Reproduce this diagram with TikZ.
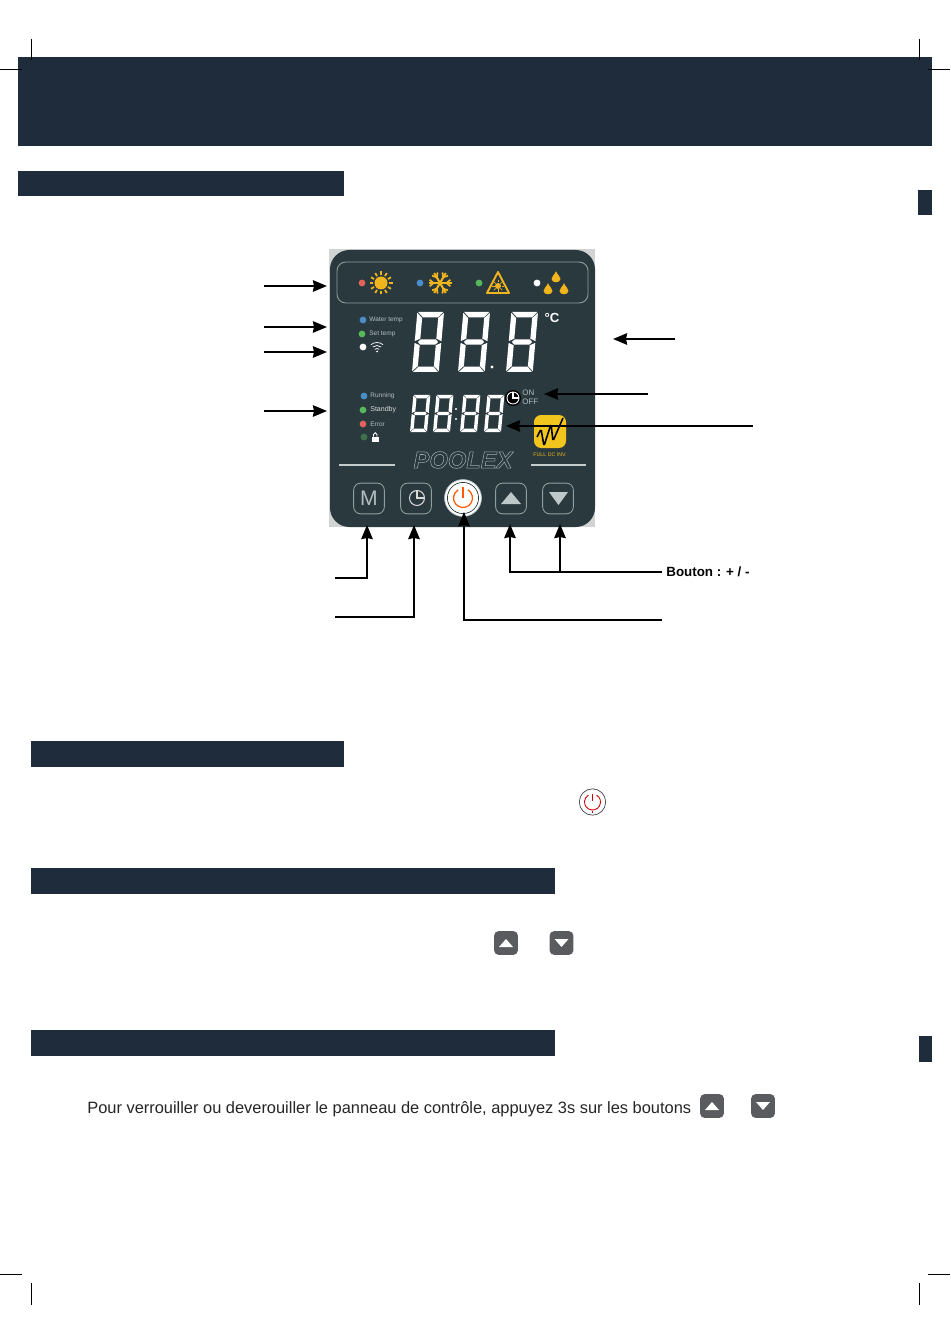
\documentclass[tikz,border=0pt]{standalone}
\usepackage{fontspec}
\setmainfont{Liberation Sans}
\usetikzlibrary{arrows.meta}
\definecolor{bandblue}{HTML}{1E2C3C}
\definecolor{panelgray}{HTML}{2A393E}
\definecolor{panelback}{HTML}{D2D4D4}
\definecolor{panelline}{HTML}{8FA09C}
\definecolor{iconyellow}{HTML}{F0B41E}
\definecolor{logoyellow}{HTML}{F2C51E}
\definecolor{legendgray}{HTML}{B4BEC0}
\definecolor{ledblue}{HTML}{4A8FC8}
\definecolor{ledgreen}{HTML}{57B85A}
\definecolor{ledred}{HTML}{E0635C}
\definecolor{keygray}{HTML}{5A5B5E}
\tikzset{
    band/.style={fill=bandblue},
    cropmark/.style={black,line width=0.5pt},
    callout/.style={black,line width=1.2pt,-{Stealth[length=8pt,width=6.5pt,inset=0.6pt]}},
    led/.style={circle,inner sep=0pt,minimum size=3.9pt},
    legend/.style={font=\fontsize{3.7}{4}\selectfont,text=legendgray,anchor=west,inner sep=0pt},
    panelkey/.style={draw=panelline,rounded corners=4pt,line width=0.5pt},
    greykey/.style={fill=keygray,rounded corners=2.5pt}
}
% one seven segment digit, anchored at its lower left corner
\newcommand{\segdigit}[4]{
    \begin{scope}[shift={(#1,#2)},xscale=#3,yscale=-#4,xslant=-0.1]
        \fill[white] (0.3,20)--(9.7,20)--(7.9,18.2)--(2.3,18.2)--cycle;
        \fill[white] (2.2,10.9)--(7.8,10.9)--(8.8,10)--(7.8,9.1)--(2.2,9.1)--(1.2,10)--cycle;
        \fill[white] (0.3,0)--(9.7,0)--(7.9,1.8)--(2.3,1.8)--cycle;
        \fill[white] (0,19.7)--(2,18)--(2,11.1)--(0,10.3)--cycle;
        \fill[white] (10,19.7)--(8,18)--(8,11.1)--(10,10.3)--cycle;
        \fill[white] (0,9.7)--(2,8.9)--(2,2)--(0,0.3)--cycle;
        \fill[white] (10,9.7)--(8,8.9)--(8,2)--(10,0.3)--cycle;
    \end{scope}
}
\newcommand{\waterdrop}[3]{
    \fill[iconyellow] (#1,#2-#3*1.5) .. controls (#1+#3*0.3,#2-#3*0.7) and (#1+#3,#2-#3*0.4) .. (#1+#3,#2+#3*0.2)
        .. controls (#1+#3,#2+#3*1.2) and (#1-#3,#2+#3*1.2) .. (#1-#3,#2+#3*0.2)
        .. controls (#1-#3,#2-#3*0.4) and (#1-#3*0.3,#2-#3*0.7) .. (#1,#2-#3*1.5) -- cycle;
}
% rounded key with a triangle, for the page text
\newcommand{\greyarrow}[4]{
    \node[greykey,minimum size=13.5pt,inner sep=0pt] (#4) at (#1,#2) {};
    \fill[white] (#1-7,#2-#3*4)--(#1+7,#2-#3*4)--(#1,#2+#3*4)--cycle;
}
\begin{document}
\begin{tikzpicture}[x=0.02cm,y=-0.02cm]
        \useasboundingbox (0,0) rectangle (950,1344);
        \fill[white] (0,0) rectangle (950,1344);
        % page furniture
        \fill[band] (18,57) rectangle (932,146);
        \fill[band] (18,171) rectangle (344,196);
        \fill[band] (31,741) rectangle (344,767);
        \fill[band] (31,868) rectangle (555,894);
        \fill[band] (31,1030) rectangle (555,1056);
        \fill[band] (918,190) rectangle (932,215);
        \fill[band] (919,1036) rectangle (932,1062);
        \draw[cropmark] (31,39)--(31,60);
        \draw[cropmark] (919,39)--(919,60);
        \draw[cropmark] (0,69)--(22,69);
        \draw[cropmark] (928,69)--(950,69);
        \draw[cropmark] (0,1274)--(22,1274);
        \draw[cropmark] (928,1274)--(950,1274);
        \draw[cropmark] (31,1283)--(31,1305);
        \draw[cropmark] (919,1283)--(919,1305);
        % control panel
        \fill[panelback] (329,249) rectangle (595,527);
        \fill[panelgray,rounded corners=11pt] (330,250) rectangle (595,527);
        \draw[panelline,rounded corners=5pt,line width=0.5pt] (337,262) rectangle (588,303);
        % top row
        \node[led,fill=ledred] (ledheat) at (362,283) {};
        \node[led,fill=ledblue] (ledcool) at (420,283) {};
        \node[led,fill=ledgreen] (ledfrost) at (479,283) {};
        \node[led,fill=white] (leddrain) at (537,283) {};
        \fill[iconyellow] (381,283) circle (6.5);
        \foreach \a in {0,30,...,330}
            \draw[iconyellow,line width=1pt] (381,283)++(\a:8)--++(\a:3.5);
        \foreach \a in {0,60,120}
            \draw[iconyellow,line width=1.2pt] (440,283)++(\a:-11.5)--++(\a:23);
        \foreach \a in {0,60,...,300} {
            \draw[iconyellow,line width=1pt] (440,283)++(\a:6.5)--++(\a+40:5);
            \draw[iconyellow,line width=1pt] (440,283)++(\a:6.5)--++(\a-40:5);
        }
        \draw[iconyellow,line width=1.1pt,line join=round] (498,272)--(509,293)--(487,293)--cycle;
        \fill[iconyellow] (498,286) circle (3);
        \foreach \a in {0,45,...,315}
            \draw[iconyellow,line width=0.4pt] (498,286)++(\a:3.5)--++(\a:2.5);
        \waterdrop{556}{278}{4.5}
        \waterdrop{548}{290}{4.5}
        \waterdrop{564}{290}{4.5}
        % temperature legend
        \node[led,fill=ledblue] (ledwater) at (363,320) {};
        \node[legend] (txtwater) at (369,320) {Water temp};
        \node[led,fill=ledgreen] (ledset) at (362,334) {};
        \node[legend] (txtset) at (369,334) {Set temp};
        \node[led,fill=white] (ledwifi) at (363,347) {};
        \draw[white,line width=0.4pt] (377,352)++(-130:3.5)arc(-130:-50:3.5);
        \draw[white,line width=0.4pt] (377,352)++(-130:6.5)arc(-130:-50:6.5);
        \draw[white,line width=0.4pt] (377,352)++(-130:9.5)arc(-130:-50:9.5);
        \fill[white] (377,351.5) circle (1);
        % big display
        \segdigit{412}{372}{2.67}{3}
        \segdigit{458}{372}{2.67}{3}
        \segdigit{506}{372}{2.67}{3}
        \fill[white] (492,367) circle (1.7);
        \node[font=\bfseries\fontsize{7.5}{8}\selectfont,text=white,inner sep=0pt] (txtdeg) at (552,318) {°C};
        % status legend
        \node[led,fill=ledblue] (ledrun) at (364,396) {};
        \node[legend] (txtrun) at (370,396) {Running};
        \node[led,fill=ledgreen] (ledstandby) at (363,410) {};
        \node[legend,font=\fontsize{4}{4.5}\selectfont,text=white!85!black] (txtstandby) at (370,410) {Standby};
        \node[led,fill=ledred] (lederror) at (363,424) {};
        \node[legend] (txterror) at (370,424) {Error};
        \node[led,fill=ledgreen!45!panelgray] (ledlock) at (364,437) {};
        \fill[white] (372,436.5) rectangle (378.5,442);
        \draw[white,line width=0.5pt] (373.5,436.5)--(373.5,434.5) arc(180:360:1.75)--(377,436.5);
        % small display
        \segdigit{410}{432}{1.7}{1.85}
        \segdigit{433}{432}{1.7}{1.85}
        \segdigit{460}{432}{1.7}{1.85}
        \segdigit{484}{432}{1.7}{1.85}
        \fill[white] (456,409) circle (1.2);
        \fill[white] (456,419) circle (1.2);
        % timer
        \fill[black] (513,398) circle (8);
        \draw[white,line width=0.5pt] (513,398) circle (6);
        \draw[white,line width=0.6pt] (513,392)--(513,398)--(519,398);
        \node[legend,font=\fontsize{4.5}{5}\selectfont] (txton) at (522,393) {ON};
        \node[legend,font=\fontsize{4.5}{5}\selectfont] (txtoff) at (522,402) {OFF};
        % logo
        \fill[logoyellow,rounded corners=4pt] (534,415) rectangle (566,448);
        \draw[black,line width=0.9pt,rounded corners=1pt] (537,437)--(541,429)--(544,446)--(551,424)--(553,441)--(563,418);
        \node[font=\fontsize{3}{3.5}\selectfont,text=iconyellow,inner sep=0pt] (txtfull) at (550,455) {FULL DC INV.};
        \node[font=\bfseries\itshape\fontsize{13.5}{14}\selectfont,inner sep=0pt] (txtbrand) at (463,460) {\special{pdf:code q 1 Tr 0.3 w 0.62 0.68 0.69 RG}POOLEX\special{pdf:code Q}};
        \draw[legendgray!80!white,line width=1.1pt] (339,465)--(395,465);
        \draw[legendgray!80!white,line width=1.1pt] (531,465)--(586,465);
        % keys
        \node[panelkey,minimum size=17.5pt,inner sep=0pt,text=legendgray,font=\fontsize{12}{12}\selectfont] (keymode) at (369,498.5) {M};
        \node[panelkey,minimum size=17.5pt,inner sep=0pt] (keyclock) at (416,498.5) {};
        \draw[white!85!black,line width=0.6pt] (417,498) circle (7.5);
        \draw[white!85!black,line width=0.6pt] (417,491)--(417,498)--(424,498);
        \node[circle,fill=white,draw=legendgray,line width=0.4pt,minimum size=21pt,inner sep=0pt] (keypower) at (463,498) {};
        \draw[panelgray,line width=0.5pt] (463,498) circle (15.5);
        \fill[white] (463,498) circle (15);
        \draw[orange!70!red,line width=0.7pt] (463,498)++(-60:9.5) arc(-60:240:9.5);
        \draw[orange!70!red,line width=0.7pt] (463,487)--(463,498);
        \node[panelkey,minimum size=17.5pt,inner sep=0pt] (keyup) at (511,498.5) {};
        \fill[legendgray!85!white] (501,504)--(521,504)--(511,492)--cycle;
        \node[panelkey,minimum size=17.5pt,inner sep=0pt] (keydown) at (558,498.5) {};
        \fill[legendgray!85!white] (549,492)--(568,492)--(558.5,505)--cycle;
        % callouts
        \coordinate (lefta) at (264,286);
        \coordinate (leftb) at (264,327);
        \coordinate (leftc) at (264,352);
        \coordinate (leftd) at (264,411);
        \draw[callout] (lefta)--(327,286);
        \draw[callout] (leftb)--(327,327);
        \draw[callout] (leftc)--(327,352);
        \draw[callout] (leftd)--(327,411);
        \coordinate (righta) at (675,339);
        \coordinate (rightb) at (648,394);
        \coordinate (rightc) at (753,426);
        \draw[callout] (righta)--(613,339);
        \draw[callout] (rightb)--(544,394);
        \draw[callout] (rightc)--(506,426);
        \coordinate (modeend) at (335,578);
        \coordinate (clockend) at (335,617);
        \coordinate (powerend) at (662,620);
        \coordinate (plusend) at (662,572);
        \node[font=\bfseries\fontsize{7.6}{8}\selectfont,anchor=west,inner sep=0pt] (txtbouton) at (666,572) {Bouton : + / -};
        \draw[callout] (modeend)-|(367,525);
        \draw[callout] (clockend)-|(414,525);
        \draw[callout] (powerend)-|(464,512);
        \draw[callout] (plusend)-|(510,524);
        \draw[callout] (560,572)--(560,524);
        % page keys
        \node[circle,draw=black!75,line width=0.4pt,fill=white,minimum size=15pt,inner sep=0pt] (pagepower) at (592.5,802) {};
        \draw[red!80!black,line width=0.5pt] (592.5,802)++(-60:8) arc(-60:240:8);
        \draw[red!80!black,line width=0.5pt] (592.5,794)--(592.5,801);
        \draw[red!80!black,line width=0.5pt] (592.5,811)--(592.5,813);
        \greyarrow{506}{943}{-1}{pageupa}
        \greyarrow{561.5}{943}{1}{pagedowna}
        \greyarrow{712}{1106}{-1}{pageupb}
        \greyarrow{763}{1106}{1}{pagedownb}
        \node[font=\fontsize{9.34}{11}\selectfont,anchor=west,inner sep=0pt,text=black!85] (txtlock) at (87,1109) {Pour verrouiller ou deverouiller le panneau de contrôle, appuyez 3s sur les boutons};
    \end{tikzpicture}
\end{document}
